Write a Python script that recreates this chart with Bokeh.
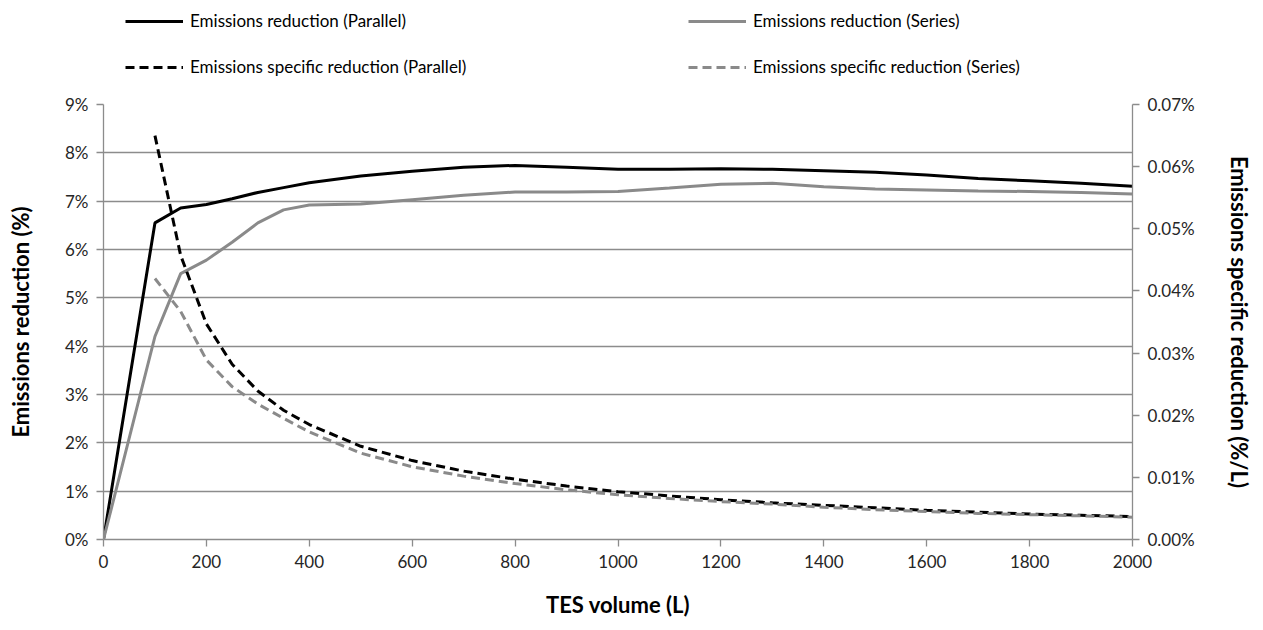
from bokeh.plotting import figure
from bokeh.layouts import column
from bokeh.models import (Range1d, LinearAxis, SingleIntervalTicker, PrintfTickFormatter,
                          Legend, LegendItem)
from bokeh.embed import file_html
from bokeh.resources import INLINE

# ---- data ----
volume = [0, 100, 150, 200, 250, 300, 350, 400, 500, 600, 700, 800, 900, 1000,
          1100, 1200, 1300, 1400, 1500, 1600, 1700, 1800, 1900, 2000]
reduction_parallel = [0.0, 6.55, 6.86, 6.93, 7.05, 7.18, 7.28, 7.38, 7.52, 7.62, 7.70, 7.74,
                      7.70, 7.66, 7.66, 7.67, 7.66, 7.63, 7.60, 7.54, 7.47, 7.42, 7.37, 7.31]
reduction_series = [0.0, 4.20, 5.50, 5.78, 6.15, 6.55, 6.82, 6.92, 6.94, 7.03, 7.12, 7.19,
                    7.19, 7.20, 7.27, 7.35, 7.37, 7.30, 7.25, 7.23, 7.21, 7.20, 7.18, 7.15]

volume_spec = [100, 150, 200, 250, 300, 350, 400, 500, 600, 700, 800, 900, 1000,
               1100, 1200, 1300, 1400, 1500, 1600, 1700, 1800, 1900, 2000]
specific_parallel = [0.0650, 0.0457, 0.0347, 0.0282, 0.0239, 0.0208, 0.0185, 0.0150, 0.0127,
                     0.0110, 0.0097, 0.0086, 0.0077, 0.0070, 0.0064, 0.0059, 0.0055, 0.0051,
                     0.0047, 0.0044, 0.0041, 0.0039, 0.0037]
specific_series = [0.0420, 0.0367, 0.0289, 0.0246, 0.0218, 0.0195, 0.0173, 0.0139, 0.0117,
                   0.0102, 0.0090, 0.0080, 0.0072, 0.0066, 0.0061, 0.0057, 0.0052, 0.0048,
                   0.0045, 0.0042, 0.0040, 0.0038, 0.0036]

labels = ["Emissions reduction (Parallel)", "Emissions reduction (Series)",
          "Emissions specific reduction (Parallel)", "Emissions specific reduction (Series)"]

FONT = "Lato"
GRAY = "#8a8a8a"
AXIS = "#8c8c8c"
TXT = "#262626"
DASH = "9 5"
FIG_W = 1255
LEG_H = 88

# ---------------- main chart ----------------
p = figure(width=FIG_W, height=630 - LEG_H - 10,
           min_border_left=103, min_border_right=FIG_W - 103 - 1030,
           min_border_top=104 - LEG_H, min_border_bottom=630 - LEG_H - 10 - (546 - LEG_H),
           x_range=Range1d(0, 2000), y_range=Range1d(0, 9),
           output_backend="svg", toolbar_location=None)
p.outline_line_color = None
p.background_fill_color = "white"
p.border_fill_color = "white"
p.extra_y_ranges = {"right": Range1d(0, 0.07)}

r1 = p.line(volume, reduction_parallel, line_color="black", line_width=3)
r2 = p.line(volume, reduction_series, line_color=GRAY, line_width=3)
r3 = p.line(volume_spec, specific_parallel, y_range_name="right",
            line_color="black", line_width=3, line_dash=DASH)
r4 = p.line(volume_spec, specific_series, y_range_name="right",
            line_color=GRAY, line_width=3, line_dash=DASH)

p.xgrid.grid_line_color = None
p.ygrid.grid_line_color = AXIS
p.ygrid.grid_line_width = 1.3

def style_axis(ax):
    ax.axis_line_color = AXIS
    ax.axis_line_width = 1.3
    ax.major_tick_line_color = AXIS
    ax.major_tick_line_width = 1.3
    ax.major_tick_in = 0
    ax.major_tick_out = 7
    ax.minor_tick_line_color = None
    ax.major_label_text_font = FONT
    ax.major_label_text_font_size = "17px"
    ax.major_label_text_color = TXT
    ax.axis_label_text_font = FONT
    ax.axis_label_text_font_size = "22px"
    ax.axis_label_text_font_style = "bold"
    ax.axis_label_text_color = "black"

xa = p.xaxis[0]
xa.ticker = SingleIntervalTicker(interval=200)
xa.axis_label = "TES volume (L)"
style_axis(xa)
xa.major_label_standoff = 8
xa.axis_label_standoff = 20

ya = p.yaxis[0]
ya.ticker = SingleIntervalTicker(interval=1)
ya.formatter = PrintfTickFormatter(format="%d%%")
ya.axis_label = "Emissions reduction (%)"
style_axis(ya)
ya.major_label_standoff = 8
ya.axis_label_standoff = 28

ra = LinearAxis(y_range_name="right", ticker=SingleIntervalTicker(interval=0.01),
                formatter=PrintfTickFormatter(format="%.2f%%"),
                axis_label="Emissions specific reduction (%/L)")
style_axis(ra)
ra.major_label_standoff = 8
ra.axis_label_standoff = 28
p.add_layout(ra, "right")

# ---------------- legend strip ----------------
lg = figure(width=FIG_W, height=LEG_H, min_border=0,
            x_axis_type=None, y_axis_type=None,
            x_range=Range1d(0, 1), y_range=Range1d(0, 1),
            output_backend="svg", toolbar_location=None)
lg.outline_line_color = None
lg.grid.visible = False
lg.background_fill_color = "white"
lg.border_fill_color = "white"

nan = float("nan")
s1 = lg.line(x=[nan, nan], y=[nan, nan], line_color="black", line_width=3)
s2 = lg.line(x=[nan, nan], y=[nan, nan], line_color=GRAY, line_width=3)
s3 = lg.line(x=[nan, nan], y=[nan, nan], line_color="black", line_width=3, line_dash=DASH)
s4 = lg.line(x=[nan, nan], y=[nan, nan], line_color=GRAY, line_width=3, line_dash=DASH)

def make_legend(items, x):
    return Legend(items=items, location=(x, LEG_H - 77), orientation="vertical",
                  glyph_width=58, glyph_height=20, label_height=20, label_standoff=7,
                  spacing=25, padding=0, margin=0,
                  label_text_font=FONT, label_text_font_size="17px", label_text_color="black",
                  border_line_color=None, background_fill_alpha=0)

# legend x positions are relative to the (aligned) plot frame, whose left edge is at 103px
lg.add_layout(make_legend([LegendItem(label=labels[0], renderers=[s1]),
                           LegendItem(label=labels[2], renderers=[s3])], 22), "center")
lg.add_layout(make_legend([LegendItem(label=labels[1], renderers=[s2]),
                           LegendItem(label=labels[3], renderers=[s4])], 585), "center")

layout = column(lg, p, spacing=0)
open("out.html", "w").write(file_html(layout, INLINE))
